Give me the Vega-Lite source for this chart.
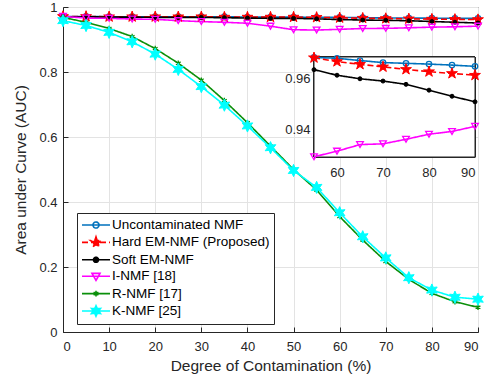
{
  "$schema": "https://vega.github.io/schema/vega-lite/v6.json",
  "width": 415,
  "height": 325,
  "autosize": {"type": "none"},
  "padding": {"left": 63, "top": 7, "right": 12, "bottom": 53},
  "background": "white",
  "config": {
    "font": "Liberation Sans",
    "view": {"stroke": "#262626", "strokeWidth": 1},
    "axis": {
      "labelColor": "#262626",
      "titleColor": "#262626",
      "domainColor": "#262626",
      "tickColor": "#262626",
      "labelFont": "Liberation Sans",
      "titleFont": "Liberation Sans",
      "titleFontWeight": "normal"
    }
  },
  "data": {
    "values": [
      {"series": "Uncontaminated NMF", "x": 0, "y": 0.971}, {"series": "Uncontaminated NMF", "x": 5, "y": 0.971}, {"series": "Uncontaminated NMF", "x": 10, "y": 0.970}, {"series": "Uncontaminated NMF", "x": 15, "y": 0.970}, {"series": "Uncontaminated NMF", "x": 20, "y": 0.970}, {"series": "Uncontaminated NMF", "x": 25, "y": 0.970}, {"series": "Uncontaminated NMF", "x": 30, "y": 0.970}, {"series": "Uncontaminated NMF", "x": 35, "y": 0.970}, {"series": "Uncontaminated NMF", "x": 40, "y": 0.969}, {"series": "Uncontaminated NMF", "x": 45, "y": 0.969}, {"series": "Uncontaminated NMF", "x": 50, "y": 0.969}, {"series": "Uncontaminated NMF", "x": 55, "y": 0.9683}, {"series": "Uncontaminated NMF", "x": 60, "y": 0.9680}, {"series": "Uncontaminated NMF", "x": 65, "y": 0.9671}, {"series": "Uncontaminated NMF", "x": 70, "y": 0.9663}, {"series": "Uncontaminated NMF", "x": 75, "y": 0.9660}, {"series": "Uncontaminated NMF", "x": 80, "y": 0.9657}, {"series": "Uncontaminated NMF", "x": 85, "y": 0.9653}, {"series": "Uncontaminated NMF", "x": 90, "y": 0.9648},
      {"series": "Hard EM-NMF (Proposed)", "x": 0, "y": 0.971}, {"series": "Hard EM-NMF (Proposed)", "x": 5, "y": 0.971}, {"series": "Hard EM-NMF (Proposed)", "x": 10, "y": 0.970}, {"series": "Hard EM-NMF (Proposed)", "x": 15, "y": 0.970}, {"series": "Hard EM-NMF (Proposed)", "x": 20, "y": 0.970}, {"series": "Hard EM-NMF (Proposed)", "x": 25, "y": 0.970}, {"series": "Hard EM-NMF (Proposed)", "x": 30, "y": 0.970}, {"series": "Hard EM-NMF (Proposed)", "x": 35, "y": 0.969}, {"series": "Hard EM-NMF (Proposed)", "x": 40, "y": 0.969}, {"series": "Hard EM-NMF (Proposed)", "x": 45, "y": 0.969}, {"series": "Hard EM-NMF (Proposed)", "x": 50, "y": 0.969}, {"series": "Hard EM-NMF (Proposed)", "x": 55, "y": 0.9682}, {"series": "Hard EM-NMF (Proposed)", "x": 60, "y": 0.9667}, {"series": "Hard EM-NMF (Proposed)", "x": 65, "y": 0.9656}, {"series": "Hard EM-NMF (Proposed)", "x": 70, "y": 0.9646}, {"series": "Hard EM-NMF (Proposed)", "x": 75, "y": 0.9636}, {"series": "Hard EM-NMF (Proposed)", "x": 80, "y": 0.9627}, {"series": "Hard EM-NMF (Proposed)", "x": 85, "y": 0.9620}, {"series": "Hard EM-NMF (Proposed)", "x": 90, "y": 0.9613},
      {"series": "Soft EM-NMF", "x": 0, "y": 0.970}, {"series": "Soft EM-NMF", "x": 5, "y": 0.970}, {"series": "Soft EM-NMF", "x": 10, "y": 0.969}, {"series": "Soft EM-NMF", "x": 15, "y": 0.969}, {"series": "Soft EM-NMF", "x": 20, "y": 0.968}, {"series": "Soft EM-NMF", "x": 25, "y": 0.968}, {"series": "Soft EM-NMF", "x": 30, "y": 0.968}, {"series": "Soft EM-NMF", "x": 35, "y": 0.967}, {"series": "Soft EM-NMF", "x": 40, "y": 0.966}, {"series": "Soft EM-NMF", "x": 45, "y": 0.965}, {"series": "Soft EM-NMF", "x": 50, "y": 0.965}, {"series": "Soft EM-NMF", "x": 55, "y": 0.9635}, {"series": "Soft EM-NMF", "x": 60, "y": 0.9613}, {"series": "Soft EM-NMF", "x": 65, "y": 0.9599}, {"series": "Soft EM-NMF", "x": 70, "y": 0.9590}, {"series": "Soft EM-NMF", "x": 75, "y": 0.9577}, {"series": "Soft EM-NMF", "x": 80, "y": 0.9554}, {"series": "Soft EM-NMF", "x": 85, "y": 0.9530}, {"series": "Soft EM-NMF", "x": 90, "y": 0.9508},
      {"series": "I-NMF [18]", "x": 0, "y": 0.971}, {"series": "I-NMF [18]", "x": 5, "y": 0.966}, {"series": "I-NMF [18]", "x": 10, "y": 0.965}, {"series": "I-NMF [18]", "x": 15, "y": 0.963}, {"series": "I-NMF [18]", "x": 20, "y": 0.962}, {"series": "I-NMF [18]", "x": 25, "y": 0.958}, {"series": "I-NMF [18]", "x": 30, "y": 0.955}, {"series": "I-NMF [18]", "x": 35, "y": 0.953}, {"series": "I-NMF [18]", "x": 40, "y": 0.950}, {"series": "I-NMF [18]", "x": 45, "y": 0.941}, {"series": "I-NMF [18]", "x": 50, "y": 0.930}, {"series": "I-NMF [18]", "x": 55, "y": 0.9291}, {"series": "I-NMF [18]", "x": 60, "y": 0.9313}, {"series": "I-NMF [18]", "x": 65, "y": 0.9339}, {"series": "I-NMF [18]", "x": 70, "y": 0.9342}, {"series": "I-NMF [18]", "x": 75, "y": 0.9360}, {"series": "I-NMF [18]", "x": 80, "y": 0.9380}, {"series": "I-NMF [18]", "x": 85, "y": 0.9391}, {"series": "I-NMF [18]", "x": 90, "y": 0.9411},
      {"series": "R-NMF [17]", "x": 0, "y": 0.968}, {"series": "R-NMF [17]", "x": 5, "y": 0.953}, {"series": "R-NMF [17]", "x": 10, "y": 0.934}, {"series": "R-NMF [17]", "x": 15, "y": 0.909}, {"series": "R-NMF [17]", "x": 20, "y": 0.872}, {"series": "R-NMF [17]", "x": 25, "y": 0.827}, {"series": "R-NMF [17]", "x": 30, "y": 0.775}, {"series": "R-NMF [17]", "x": 35, "y": 0.712}, {"series": "R-NMF [17]", "x": 40, "y": 0.644}, {"series": "R-NMF [17]", "x": 45, "y": 0.572}, {"series": "R-NMF [17]", "x": 50, "y": 0.500}, {"series": "R-NMF [17]", "x": 55, "y": 0.437}, {"series": "R-NMF [17]", "x": 60, "y": 0.355}, {"series": "R-NMF [17]", "x": 65, "y": 0.283}, {"series": "R-NMF [17]", "x": 70, "y": 0.217}, {"series": "R-NMF [17]", "x": 75, "y": 0.162}, {"series": "R-NMF [17]", "x": 80, "y": 0.119}, {"series": "R-NMF [17]", "x": 85, "y": 0.093}, {"series": "R-NMF [17]", "x": 90, "y": 0.076},
      {"series": "K-NMF [25]", "x": 0, "y": 0.958}, {"series": "K-NMF [25]", "x": 5, "y": 0.943}, {"series": "K-NMF [25]", "x": 10, "y": 0.922}, {"series": "K-NMF [25]", "x": 15, "y": 0.893}, {"series": "K-NMF [25]", "x": 20, "y": 0.855}, {"series": "K-NMF [25]", "x": 25, "y": 0.808}, {"series": "K-NMF [25]", "x": 30, "y": 0.755}, {"series": "K-NMF [25]", "x": 35, "y": 0.698}, {"series": "K-NMF [25]", "x": 40, "y": 0.634}, {"series": "K-NMF [25]", "x": 45, "y": 0.567}, {"series": "K-NMF [25]", "x": 50, "y": 0.497}, {"series": "K-NMF [25]", "x": 55, "y": 0.445}, {"series": "K-NMF [25]", "x": 60, "y": 0.367}, {"series": "K-NMF [25]", "x": 65, "y": 0.293}, {"series": "K-NMF [25]", "x": 70, "y": 0.228}, {"series": "K-NMF [25]", "x": 75, "y": 0.167}, {"series": "K-NMF [25]", "x": 80, "y": 0.129}, {"series": "K-NMF [25]", "x": 85, "y": 0.107}, {"series": "K-NMF [25]", "x": 90, "y": 0.101}
    ]
  },
  "layer": [
    {
      "encoding": {
        "x": {"field": "x", "type": "quantitative", "scale": {"domain": [0, 90], "nice": false, "zero": false},
          "axis": {"values": [0, 10, 20, 30, 40, 50, 60, 70, 80, 90], "grid": true, "gridColor": "#e3e3e3", "tickSize": -5, "labelPadding": 13, "labelFontSize": 13, "title": "Degree of Contamination (%)", "titleFontSize": 15.5, "titlePadding": 5}},
        "y": {"field": "y", "type": "quantitative", "scale": {"domain": [0, 1], "nice": false},
          "axis": {"values": [0, 0.2, 0.4, 0.6, 0.8, 1], "format": "~g", "grid": true, "gridColor": "#e3e3e3", "tickSize": -5, "labelPadding": 11, "labelFontSize": 13, "title": "Area under Curve (AUC)", "titleFontSize": 15.5, "titlePadding": 10}}
      },
      "layer": [
        {
          "mark": {"type": "line", "strokeWidth": 1.6},
          "encoding": {
            "color": {"field": "series", "type": "nominal",
              "scale": {"domain": ["Uncontaminated NMF", "Hard EM-NMF (Proposed)", "Soft EM-NMF", "I-NMF [18]", "R-NMF [17]", "K-NMF [25]"], "range": ["#0072BD", "#FF0000", "#000000", "#FF00FF", "#0A8F0A", "#00FFFF"]},
              "legend": {
                "title": null, "orient": "none", "legendX": 14, "legendY": 206,
                "strokeColor": "#262626", "fillColor": "white", "padding": 4,
                "labelFontSize": 13.5, "labelColor": "#000000", "labelFont": "Liberation Sans",
                "symbolSize": 196, "rowPadding": 1.4, "symbolOffset": 7, "labelOffset": 8,
                "encode": {
                  "symbols": {
                    "update": {
                      "shape": {"signal": "datum.value === 'Uncontaminated NMF' ? 'M-2,0L2,0M-0.43,0A0.43,0.43 0 1,0 0.43,0A0.43,0.43 0 1,0 -0.43,0' : datum.value === 'Hard EM-NMF (Proposed)' ? 'M-2,0L2,0M0,-0.8L0.18,-0.247L0.761,-0.247L0.29,0.094L0.47,0.647L0,0.306L-0.47,0.647L-0.29,0.094L-0.761,-0.247L-0.18,-0.247Z' : datum.value === 'Soft EM-NMF' ? 'M-2,0L2,0M-0.36,0A0.36,0.36 0 1,0 0.36,0A0.36,0.36 0 1,0 -0.36,0' : datum.value === 'I-NMF [18]' ? 'M-2,0L2,0M-0.57,-0.4L0.57,-0.4L0,0.6Z' : datum.value === 'R-NMF [17]' ? 'M-2,0L2,0M0,-0.4L0,0.4M-0.35,-0.2L0.35,0.2M-0.35,0.2L0.35,-0.2' : 'M-2,0L2,0M0,-0.75L0.1875,-0.325L0.65,-0.375L0.375,0L0.65,0.375L0.1875,0.325L0,0.75L-0.1875,0.325L-0.65,0.375L-0.375,0L-0.65,-0.375L-0.1875,-0.325Z'"},
                      "fill": {"signal": "datum.value === 'Hard EM-NMF (Proposed)' ? '#FF0000' : datum.value === 'Soft EM-NMF' ? '#000000' : datum.value === 'K-NMF [25]' ? '#00FFFF' : 'transparent'"},
                      "stroke": {"signal": "datum.value === 'Uncontaminated NMF' ? '#0072BD' : datum.value === 'Hard EM-NMF (Proposed)' ? '#FF0000' : datum.value === 'Soft EM-NMF' ? '#000000' : datum.value === 'I-NMF [18]' ? '#FF00FF' : datum.value === 'R-NMF [17]' ? '#0A8F0A' : '#00FFFF'"},
                      "strokeDash": {"signal": "datum.value === 'Hard EM-NMF (Proposed)' ? [5, 3] : [1, 0]"},
                      "strokeWidth": {"value": 1.6},
                      "size": {"value": 196},
                      "opacity": {"value": 1}
                    }
                  }
                }
              }},
            "strokeDash": {"field": "series", "type": "nominal",
              "scale": {"domain": ["Uncontaminated NMF", "Hard EM-NMF (Proposed)", "Soft EM-NMF", "I-NMF [18]", "R-NMF [17]", "K-NMF [25]"], "range": [[1, 0], [6, 3], [1, 0], [1, 0], [1, 0], [1, 0]]},
              "legend": null}
          }
        },
        {"transform": [{"filter": "datum.series === 'Uncontaminated NMF'"}], "mark": {"type": "point", "shape": "circle", "size": 30, "filled": false, "stroke": "#0072BD", "strokeWidth": 1.3, "opacity": 1}},
        {"transform": [{"filter": "datum.series === 'Hard EM-NMF (Proposed)'"}], "mark": {"type": "point", "shape": "M0,-1L0.225,-0.309L0.951,-0.309L0.363,0.118L0.588,0.809L0,0.382L-0.588,0.809L-0.363,0.118L-0.951,-0.309L-0.225,-0.309Z", "size": 130, "filled": true, "fill": "#FF0000", "stroke": "#FF0000", "strokeWidth": 1, "opacity": 1}},
        {"transform": [{"filter": "datum.series === 'Soft EM-NMF'"}], "mark": {"type": "point", "shape": "circle", "size": 16, "filled": true, "fill": "#000000", "stroke": "#000000", "strokeWidth": 1, "opacity": 1}},
        {"transform": [{"filter": "datum.series === 'I-NMF [18]'"}], "mark": {"type": "point", "shape": "triangle-down", "size": 45, "filled": false, "stroke": "#FF00FF", "strokeWidth": 1.3, "opacity": 1}},
        {"transform": [{"filter": "datum.series === 'R-NMF [17]'"}], "mark": {"type": "point", "shape": "M0,-1L0,1M-0.87,-0.5L0.87,0.5M-0.87,0.5L0.87,-0.5", "size": 30, "filled": false, "stroke": "#0A8F0A", "strokeWidth": 1.3, "opacity": 1}},
        {"transform": [{"filter": "datum.series === 'K-NMF [25]'"}], "mark": {"type": "point", "shape": "M0,-1L0.25,-0.433L0.866,-0.5L0.5,0L0.866,0.5L0.25,0.433L0,1L-0.25,0.433L-0.866,0.5L-0.5,0L-0.866,-0.5L-0.25,-0.433Z", "size": 150, "filled": true, "fill": "#00FFFF", "stroke": "#00FFFF", "strokeWidth": 1, "opacity": 1}}
      ]
    },
    {
      "transform": [{"filter": "datum.x >= 55"}],
      "encoding": {
        "x": {"field": "x", "type": "quantitative", "title": null,
          "scale": {"domain": [55, 90], "range": [251, 412], "nice": false, "zero": false},
          "axis": {"orient": "bottom", "offset": -175, "values": [60, 70, 80, 90], "grid": false, "domain": false, "tickSize": -4, "labelPadding": 13, "labelFontSize": 13, "title": null}},
        "y": {"field": "y", "type": "quantitative", "title": null,
          "scale": {"domain": [0.929, 0.9685], "range": [150, 50], "nice": false, "zero": false},
          "axis": {"orient": "left", "offset": -251, "values": [0.94, 0.96], "format": ".2f", "grid": false, "domain": false, "tickSize": -4, "labelPadding": 8, "labelFontSize": 13, "title": null}}
      },
      "layer": [
        {
          "mark": {"type": "rect", "fill": "white", "stroke": "#262626", "strokeWidth": 1},
          "encoding": {
            "x": {"datum": 55, "type": "quantitative"},
            "x2": {"datum": 90},
            "y": {"datum": 0.929, "type": "quantitative"},
            "y2": {"datum": 0.9685}
          }
        },
        {
          "transform": [{"filter": "datum.series !== 'R-NMF [17]' && datum.series !== 'K-NMF [25]'"}],
          "mark": {"type": "line", "strokeWidth": 1.6},
          "encoding": {
            "stroke": {"field": "series", "type": "nominal",
              "scale": {"domain": ["Uncontaminated NMF", "Hard EM-NMF (Proposed)", "Soft EM-NMF", "I-NMF [18]", "R-NMF [17]", "K-NMF [25]"], "range": ["#0072BD", "#FF0000", "#000000", "#FF00FF", "#0A8F0A", "#00FFFF"]}, "legend": null},
            "strokeDash": {"field": "series", "type": "nominal",
              "scale": {"domain": ["Uncontaminated NMF", "Hard EM-NMF (Proposed)", "Soft EM-NMF", "I-NMF [18]", "R-NMF [17]", "K-NMF [25]"], "range": [[1, 0], [6, 3], [1, 0], [1, 0], [1, 0], [1, 0]]}, "legend": null}
          }
        },
        {"transform": [{"filter": "datum.series === 'Uncontaminated NMF'"}], "mark": {"type": "point", "shape": "circle", "size": 30, "filled": false, "stroke": "#0072BD", "strokeWidth": 1.3, "opacity": 1}},
        {"transform": [{"filter": "datum.series === 'Hard EM-NMF (Proposed)'"}], "mark": {"type": "point", "shape": "M0,-1L0.225,-0.309L0.951,-0.309L0.363,0.118L0.588,0.809L0,0.382L-0.588,0.809L-0.363,0.118L-0.951,-0.309L-0.225,-0.309Z", "size": 130, "filled": true, "fill": "#FF0000", "stroke": "#FF0000", "strokeWidth": 1, "opacity": 1}},
        {"transform": [{"filter": "datum.series === 'Soft EM-NMF'"}], "mark": {"type": "point", "shape": "circle", "size": 16, "filled": true, "fill": "#000000", "stroke": "#000000", "strokeWidth": 1, "opacity": 1}},
        {"transform": [{"filter": "datum.series === 'I-NMF [18]'"}], "mark": {"type": "point", "shape": "triangle-down", "size": 45, "filled": false, "stroke": "#FF00FF", "strokeWidth": 1.3, "opacity": 1}}
      ]
    }
  ],
  "resolve": {"scale": {"x": "independent", "y": "independent"}, "axis": {"x": "independent", "y": "independent"}}
}
